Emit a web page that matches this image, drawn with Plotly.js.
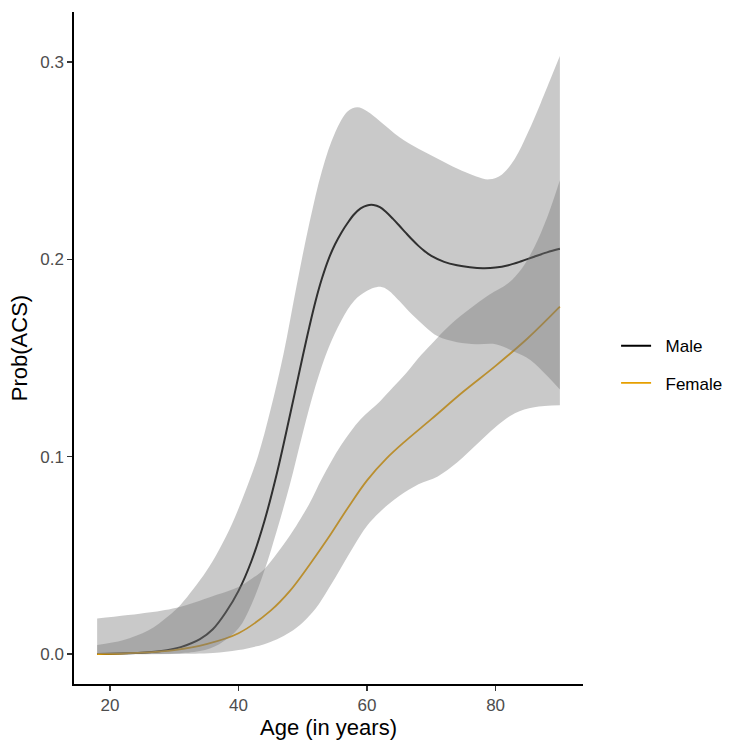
<!DOCTYPE html>
<html>
<head>
<meta charset="utf-8">
<script src="https://cdn.plot.ly/plotly-3.0.1.min.js"></script>
<style>html,body{margin:0;padding:0;background:#fff;}#chart{width:750px;height:750px;}</style>
</head>
<body>
<div id="chart"></div>
<script>
// Fitted curves
const maleAge = [18, 24, 28, 31, 34, 36, 38, 40, 42, 44, 46, 48, 50, 51, 52, 53, 54, 55, 56, 57, 58, 59, 60, 61, 62, 63, 64, 65, 66, 67, 68, 69, 70, 72, 74, 76, 78, 80, 82, 84, 86, 88, 90];
const maleFit = [0, 0.0005, 0.0015, 0.0035, 0.0075, 0.0125, 0.021, 0.032, 0.047, 0.067, 0.092, 0.121, 0.151, 0.1655, 0.179, 0.1905, 0.200, 0.2075, 0.2135, 0.2185, 0.2228, 0.2258, 0.2273, 0.2275, 0.2264, 0.2238, 0.2206, 0.2171, 0.2135, 0.2100, 0.2068, 0.2040, 0.2017, 0.1987, 0.1970, 0.1960, 0.1955, 0.1958, 0.1970, 0.1990, 0.2013, 0.2035, 0.2053];
const femaleAge = [18, 25, 30, 35, 40, 45, 48, 51, 54, 57, 60, 63, 66, 70, 75, 80, 85, 90];
const femaleFit = [0, 0.0007, 0.002, 0.005, 0.0105, 0.022, 0.032, 0.045, 0.059, 0.074, 0.088, 0.099, 0.108, 0.119, 0.133, 0.146, 0.160, 0.176];

// Confidence bands
const maleUpperAge = [18, 22, 26, 29, 31, 33, 35, 37, 39, 41, 43, 45, 47, 49, 51, 53, 55, 57, 58.5, 60, 62, 65, 68, 71, 74, 77, 79, 81, 83, 85, 87, 89, 90];
const maleUpper = [0.0046, 0.007, 0.012, 0.019, 0.025, 0.033, 0.042, 0.053, 0.066, 0.082, 0.100, 0.124, 0.152, 0.186, 0.218, 0.245, 0.264, 0.275, 0.277, 0.275, 0.270, 0.262, 0.256, 0.251, 0.246, 0.242, 0.2405, 0.243, 0.251, 0.264, 0.279, 0.295, 0.303];
const maleLowerAge = [18, 30, 34, 37, 40, 42, 44, 46, 48, 50, 52, 54, 56, 58, 60, 61.6, 63, 65, 67, 69, 71, 74, 77, 80, 83, 85.4, 88, 90];
const maleLower = [0, 0.0003, 0.0015, 0.005, 0.013, 0.025, 0.042, 0.063, 0.086, 0.112, 0.136, 0.155, 0.169, 0.179, 0.184, 0.186, 0.185, 0.179, 0.172, 0.166, 0.161, 0.158, 0.157, 0.157, 0.153, 0.149, 0.141, 0.134];

const femaleUpperAge = [18, 26, 31, 36.6, 40, 42, 44, 46, 48, 51, 53, 56, 59, 62, 64, 66, 68, 70, 73, 76, 79, 82, 84, 86, 88, 90];
const femaleUpper = [0.018, 0.021, 0.024, 0.030, 0.034, 0.038, 0.043, 0.051, 0.060, 0.076, 0.089, 0.106, 0.119, 0.128, 0.135, 0.142, 0.150, 0.157, 0.167, 0.175, 0.182, 0.188, 0.195, 0.206, 0.221, 0.240];
const femaleLowerAge = [18, 30, 36, 40, 44, 46, 48, 50, 52, 54, 56, 58, 60, 62, 65, 68, 71, 74, 77, 80, 83, 86, 90];
const femaleLower = [0, 0, 0.0005, 0.002, 0.005, 0.0075, 0.011, 0.016, 0.023, 0.033, 0.044, 0.055, 0.065, 0.072, 0.080, 0.086, 0.090, 0.097, 0.106, 0.115, 0.122, 0.125, 0.126];

const seriesNames = ['Male', 'Female'];
const xTickVals = [20, 40, 60, 80];
const yTickVals = [0, 0.1, 0.2, 0.3];
const yTickText = ['0.0', '0.1', '0.2', '0.3'];

const ribbonFill = 'rgba(120,120,120,0.4)';
const nb = '\u00a0\u00a0';

function bandTraces(xl, yl, xu, yu) {
  return [
    {x: xl, y: yl, type: 'scatter', mode: 'lines', line: {width: 0, shape: 'spline', smoothing: 1},
     showlegend: false, hoverinfo: 'skip'},
    {x: xu, y: yu, type: 'scatter', mode: 'lines', fill: 'tonexty', fillcolor: ribbonFill,
     line: {width: 0, shape: 'spline', smoothing: 1}, showlegend: false, hoverinfo: 'skip'}
  ];
}

const traces = [
  {x: maleAge, y: maleFit, type: 'scatter', mode: 'lines', name: nb + seriesNames[0],
   line: {color: '#000000', width: 2, shape: 'spline', smoothing: 1}, legendgroup: 'm', hoverinfo: 'skip'},
  {x: femaleAge, y: femaleFit, type: 'scatter', mode: 'lines', name: nb + seriesNames[1],
   line: {color: '#E69F00', width: 1.8, shape: 'spline', smoothing: 1}, legendgroup: 'f', hoverinfo: 'skip'}
].concat(
  bandTraces(maleLowerAge, maleLower, maleUpperAge, maleUpper),
  bandTraces(femaleLowerAge, femaleLower, femaleUpperAge, femaleUpper)
);

const layout = {
  width: 750, height: 750,
  paper_bgcolor: '#ffffff', plot_bgcolor: '#ffffff',
  margin: {l: 74, r: 167, t: 12, b: 66},
  font: {family: 'Liberation Sans, Arial, sans-serif', color: '#000'},
  xaxis: {
    range: [14.4, 93.6], tickvals: xTickVals, ticktext: xTickVals.map(String),
    showgrid: false, zeroline: false, showline: true, linecolor: '#000', linewidth: 1.6,
    ticks: 'outside', ticklen: 5, tickwidth: 1.4, tickcolor: '#333',
    tickfont: {size: 17, color: '#4d4d4d'}, automargin: true,
    title: {text: 'Age (in years)', font: {size: 22, color: '#000'}, standoff: 2}
  },
  yaxis: {
    range: [-0.0152, 0.3253], tickvals: yTickVals, ticktext: yTickText,
    showgrid: false, zeroline: false, showline: true, linecolor: '#000', linewidth: 1.6,
    ticks: 'outside', ticklen: 5, tickwidth: 1.4, tickcolor: '#333',
    tickfont: {size: 17, color: '#4d4d4d'},
    title: {text: 'Prob(ACS)', font: {size: 22, color: '#000'}, standoff: 6}
  },
  showlegend: true,
  legend: {
    x: 1.065, y: 0.475, xanchor: 'left', yanchor: 'middle',
    font: {size: 17, color: '#000'}, itemwidth: 30,
    traceorder: 'grouped', tracegroupgap: 12,
    bgcolor: 'rgba(0,0,0,0)'
  }
};

Plotly.newPlot('chart', traces, layout, {staticPlot: true, displayModeBar: false});
</script>
</body>
</html>
